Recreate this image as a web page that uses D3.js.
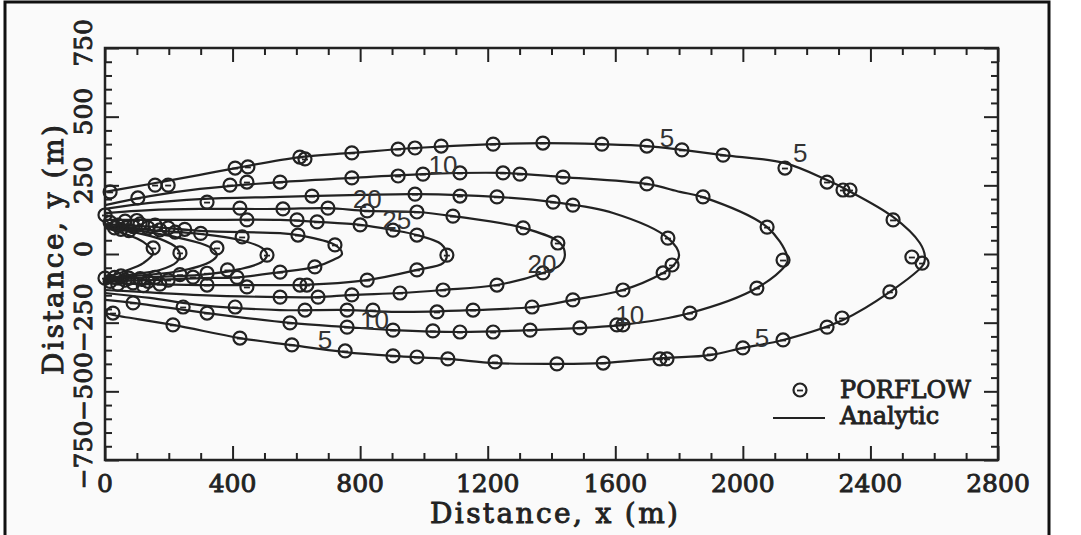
<!DOCTYPE html>
<html>
<head>
<meta charset="utf-8">
<script src="https://cdn.jsdelivr.net/npm/d3@7"></script>
<style>
  body { margin: 0; background: #fff; }
  svg { display: block; }
</style>
</head>
<body>
<div id="chart"></div>
<script>
// Analytic contours (x, y in metres), upper branch from the source to the tip, then back along the lower branch
const analytic5 = [[0,226],[141,255],[298,288],[611,353],[774,368],[972,386],[1217,400],[1373,404],[1558,400],[1699,393],[1809,379],[1938,360],[2132,331],[2264,269],[2327,233],[2471,135],[2555,40],[2571,-11],[2565,-40],[2461,-138],[2314,-240],[2126,-313],[2000,-342],[1897,-368],[1750,-379],[1562,-397],[1417,-400],[1223,-397],[1075,-382],[903,-371],[753,-357],[580,-331],[423,-306],[213,-258],[25,-222],[0,-215]];
const analytic10 = [[0,178],[141,211],[298,237],[549,262],[774,277],[997,291],[1248,295],[1436,280],[1699,255],[1803,226],[1875,207],[2076,98],[2138,-4],[2138,-33],[2044,-124],[1834,-215],[1624,-258],[1333,-277],[1113,-284],[903,-277],[759,-266],[580,-251],[320,-215],[88,-178],[0,-167]];
const analytic15 = [[0,164],[141,186],[298,200],[549,208],[800,215],[978,218],[1229,208],[1405,189],[1593,149],[1765,58],[1800,-4],[1781,-44],[1750,-69],[1624,-131],[1467,-167],[1339,-193],[1154,-204],[916,-211],[759,-204],[549,-204],[298,-186],[141,-160],[0,-142]];
const analytic20 = [[0,149],[141,160],[298,164],[549,164],[699,167],[822,157],[978,153],[1091,138],[1311,95],[1427,40],[1442,-4],[1427,-40],[1373,-69],[1229,-113],[1060,-131],[925,-142],[774,-149],[668,-157],[549,-157],[298,-150],[141,-140],[0,-131]];
const analytic25 = [[0,124],[141,124],[298,124],[549,124],[665,117],[800,106],[903,87],[978,69],[1054,36],[1072,-4],[1060,-33],[978,-58],[822,-95],[605,-113],[549,-113],[298,-113],[141,-110],[0,-106]];
const analytic30 = [[0,109],[141,100],[298,84],[549,76],[605,69],[721,33],[743,0],[715,-22],[658,-47],[549,-66],[414,-85],[298,-88],[141,-95],[0,-98]];
const analytic35 = [[0,104],[141,87],[298,73],[423,51],[492,22],[508,-4],[492,-29],[423,-55],[298,-76],[141,-84],[0,-95]];
const analytic40 = [[0,100],[110,84],[235,58],[329,25],[351,-4],[329,-29],[235,-62],[110,-78],[0,-92]];
const analytic45 = [[0,98],[88,80],[172,55],[225,22],[235,-4],[225,-29],[172,-58],[88,-74],[0,-90]];
const analytic50 = [[0,95],[63,73],[120,44],[151,4],[120,-33],[63,-62],[0,-88]];

// PORFLOW results (x, y in metres)
const porflow5 = [[16,226],[157,251],[198,251],[408,313],[448,317],[611,353],[627,346],[774,368],[919,382],[972,386],[1054,393],[1217,400],[1373,404],[1558,400],[1699,393],[1809,379],[1938,360],[2132,313],[2264,262],[2314,233],[2336,233],[2471,124],[2530,-11],[2562,-33],[2461,-138],[2311,-233],[2264,-266],[2126,-313],[2000,-342],[1897,-364],[1762,-382],[1740,-382],[1562,-397],[1417,-400],[1223,-393],[1075,-382],[978,-375],[903,-371],[753,-353],[586,-331],[423,-306],[213,-258],[25,-215]];
const porflow10 = [[103,204],[392,251],[445,262],[549,262],[774,277],[919,284],[997,291],[1113,295],[1248,295],[1301,291],[1436,280],[1699,255],[1875,208],[2076,98],[2126,-22],[2044,-124],[1834,-215],[1624,-258],[1605,-258],[1489,-269],[1333,-277],[1217,-284],[1113,-284],[1028,-280],[903,-277],[759,-266],[580,-251],[320,-215],[88,-178]];
const porflow15 = [[320,189],[649,211],[972,218],[1113,211],[1229,208],[1405,189],[1467,178],[1765,58],[1778,-40],[1750,-69],[1624,-131],[1467,-167],[1339,-193],[1154,-204],[1041,-211],[840,-204],[759,-204],[627,-204],[408,-193],[245,-193]];
const porflow20 = [[423,167],[558,164],[699,167],[822,157],[978,153],[1091,138],[1311,95],[1420,40],[1373,-69],[1229,-113],[1060,-131],[925,-142],[774,-149],[668,-157],[549,-157]];
const porflow25 = [[445,124],[602,124],[665,117],[800,106],[903,87],[978,69],[1072,-4],[978,-58],[822,-95],[633,-113],[611,-113],[445,-120],[320,-113]];
const porflow30 = [[430,62],[605,69],[721,33],[658,-47],[549,-66],[414,-85]];
const porflowInner = [[508,-4],[351,22],[235,4],[151,22],[384,-58],[276,-84],[0,142],[0,-88],
  [16,115],[40,105],[63,120],[88,100],[110,110],[135,95],[157,105],[172,88],[198,95],[220,80],[250,90],[300,75],
  [16,-100],[40,-110],[63,-95],[88,-105],[110,-90],[135,-100],[157,-85],[172,-110],[198,-95],[235,-75],[320,-70],
  [30,95],[50,90],[75,85],[30,-85],[50,-80],[75,-88],[100,122],[120,-115]];

const xMajor = [0, 400, 800, 1200, 1600, 2000, 2400, 2800];
const yMajor = [-750, -500, -250, 0, 250, 500, 750];

// contour labels: value and where it sits (metres)
const labelText = ['5', '5', '10', '20', '25', '20', '10', '10', '5', '5'];
const labelX = [1762, 2180, 1060, 822, 915, 1370, 1645, 845, 690, 2060];
const labelY = [425, 370, 325, 200, 125, -35, -220, -240, -310, -305];

const W = 1081, H = 535;
const svg = d3.select('#chart').append('svg')
  .attr('width', W).attr('height', H);

// scanned page look: off-white panel with a black border on three sides
svg.append('rect').attr('x', 5).attr('y', 2).attr('width', 1044).attr('height', H)
  .attr('fill', '#fafafa');
svg.append('path').attr('d', `M5,${H}V2H1049V${H}`)
  .attr('fill', 'none').attr('stroke', '#111').attr('stroke-width', 3);

const x = d3.scaleLinear().domain([0, 2800]).range([105, 998]);
const y = d3.scaleLinear().domain([-750, 750]).range([460, 48]);

const ink = '#222';
const serif = '"DejaVu Serif", serif';

// ticks (inward), majors long, minors short
function ticks(axisFn, scale, values, size, transform) {
  const g = svg.append('g').attr('transform', transform)
    .call(axisFn(scale).tickValues(values).tickSize(-size).tickSizeOuter(0).tickFormat(''));
  g.select('.domain').remove();
  g.selectAll('line').attr('stroke', ink).attr('stroke-width', 2);
  return g;
}
const xMinor = d3.range(0, 2801, 100).filter(v => v % 400);
const yMinor = d3.range(-750, 751, 50).filter(v => v % 250);
ticks(d3.axisBottom, x, xMajor, 14, `translate(0,${y(-750)})`);
ticks(d3.axisBottom, x, xMinor, 7, `translate(0,${y(-750)})`);
ticks(d3.axisTop, x, xMajor, 14, `translate(0,${y(750)})`);
ticks(d3.axisTop, x, xMinor, 7, `translate(0,${y(750)})`);
ticks(d3.axisLeft, y, yMajor, 14, `translate(${x(0)},0)`);
ticks(d3.axisLeft, y, yMinor, 7, `translate(${x(0)},0)`);
ticks(d3.axisRight, y, yMajor, 14, `translate(${x(2800)},0)`);
ticks(d3.axisRight, y, yMinor, 7, `translate(${x(2800)},0)`);

svg.append('rect')
  .attr('x', x(0)).attr('y', y(750))
  .attr('width', x(2800) - x(0)).attr('height', y(-750) - y(750))
  .attr('fill', 'none').attr('stroke', ink).attr('stroke-width', 2.5);

// bold-looking serif text
function inked(sel, size) {
  return sel.style('font-family', serif).style('font-size', size + 'px')
    .attr('fill', ink).attr('stroke', ink).attr('stroke-width', 0.9);
}

// tick labels
svg.append('g').selectAll('text').data(xMajor).join('text')
  .attr('x', d => x(d)).attr('y', 492)
  .attr('text-anchor', 'middle')
  .call(inked, 25)
  .text(d => d);

svg.append('g').selectAll('text').data(yMajor).join('text')
  .attr('transform', d => `translate(92,${y(d) - 5}) rotate(-90)`)
  .attr('text-anchor', 'middle')
  .call(inked, 25)
  .text(d => d < 0 ? '\u2212' + Math.abs(d) : d);

// axis titles
svg.append('text')
  .attr('x', 554).attr('y', 523).attr('text-anchor', 'middle')
  .attr('textLength', 248).attr('lengthAdjust', 'spacing')
  .call(inked, 28)
  .text('Distance,  x  (m)');

svg.append('text')
  .attr('transform', 'translate(63,250) rotate(-90)').attr('text-anchor', 'middle')
  .attr('textLength', 250).attr('lengthAdjust', 'spacing')
  .call(inked, 28)
  .text('Distance,  y  (m)');

// analytic contour lines
const contours = [analytic5, analytic10, analytic15, analytic20, analytic25,
  analytic30, analytic35, analytic40, analytic45, analytic50];
const line = d3.line().x(d => x(d[0])).y(d => y(d[1])).curve(d3.curveCatmullRom.alpha(0.5));
svg.append('g').selectAll('path').data(contours).join('path')
  .attr('d', line)
  .attr('fill', 'none').attr('stroke', ink).attr('stroke-width', 2.2);

// PORFLOW markers
const points = [].concat(porflow5, porflow10, porflow15, porflow20, porflow25, porflow30, porflowInner);
function marker(g) {
  g.append('circle').attr('r', 6.5)
    .attr('fill', 'none').attr('stroke', ink).attr('stroke-width', 2.2);
  g.append('path').attr('d', 'M-3,0.5H3').attr('stroke', ink).attr('stroke-width', 1.8);
}
svg.append('g').selectAll('g').data(points).join('g')
  .attr('transform', d => `translate(${x(d[0])},${y(d[1])})`)
  .call(marker);

// contour value labels
svg.append('g').selectAll('text').data(labelText).join('text')
  .attr('x', (d, i) => x(labelX[i])).attr('y', (d, i) => y(labelY[i]))
  .attr('text-anchor', 'middle').attr('dy', '0.36em')
  .style('font-family', '"Liberation Sans", Arial, sans-serif').style('font-size', '26px')
  .attr('fill', '#333')
  .text(d => d);

// legend
const leg = svg.append('g');
leg.append('g').attr('transform', 'translate(800,390)').call(marker);
leg.append('line').attr('x1', 773).attr('x2', 825).attr('y1', 418).attr('y2', 418)
  .attr('stroke', ink).attr('stroke-width', 2.2);
leg.append('text').attr('x', 840).attr('y', 398).call(inked, 24).text('PORFLOW');
leg.append('text').attr('x', 840).attr('y', 424).call(inked, 24).text('Analytic');
</script>
</body>
</html>
